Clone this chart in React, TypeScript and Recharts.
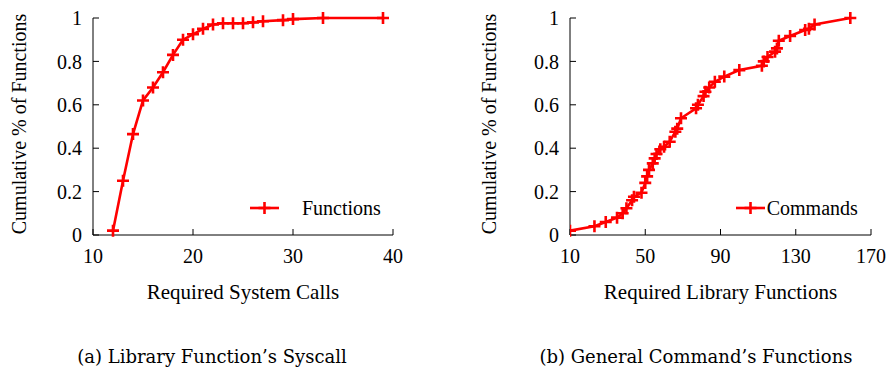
import React from 'react';
import { LineChart, Line, XAxis, YAxis, Legend } from 'recharts';

// (a) required system calls per library function
const syscallCounts = [12, 13, 14, 15, 16, 17, 18, 19, 20, 21, 22, 23, 24, 25, 26, 27, 29, 30, 33, 39];
const syscallCdf = [0.02, 0.25, 0.465, 0.62, 0.68, 0.75, 0.83, 0.9, 0.925, 0.95, 0.97, 0.976, 0.976, 0.976, 0.98, 0.985, 0.99, 0.995, 1.0, 1.0];

// (b) required library functions per command
const libFuncCounts = [10, 23, 29, 35, 38, 40, 43, 44, 48, 50, 51, 52, 54, 55, 56, 58, 60, 63, 66, 67, 69, 77, 78, 81, 82, 84, 87, 92, 100, 112, 113, 115, 119, 120, 121, 127, 135, 137, 140, 159];
const libFuncCdf = [0.02, 0.04, 0.06, 0.08, 0.1, 0.123, 0.16, 0.176, 0.195, 0.24, 0.27, 0.3, 0.33, 0.353, 0.373, 0.395, 0.407, 0.43, 0.476, 0.49, 0.538, 0.584, 0.6, 0.64, 0.66, 0.68, 0.706, 0.73, 0.76, 0.78, 0.8, 0.82, 0.845, 0.86, 0.895, 0.917, 0.945, 0.95, 0.97, 1.0];

const yTicks = [0, 0.2, 0.4, 0.6, 0.8, 1];
const xTicksA = [10, 20, 30, 40];
const xTicksB = [10, 50, 90, 130, 170];

const RED = '#ff0000';
const FONT = '"Liberation Serif", "DejaVu Serif", serif';

const toRows = (xs: number[], ys: number[]) => xs.map((x, i) => ({ x, y: ys[i] }));

const renderPlus = (p: any) => {
  const { cx, cy, index } = p;
  if (cx == null || cy == null) return <g key={`p-${index}`} />;
  return (
    <path
      key={`p-${index}`}
      d={`M${cx - 6},${cy}H${cx + 6}M${cx},${cy - 6}V${cy + 6}`}
      stroke={RED}
      strokeWidth={2.6}
      fill="none"
    />
  );
};

const YLabel = ({ viewBox }: any) => {
  const cx = viewBox.x + 19;
  const cy = 124;
  return (
    <text x={cx} y={cy} transform={`rotate(-90, ${cx}, ${cy})`} textAnchor="middle" dominantBaseline="central"
      fontFamily={FONT} fontSize={20} fill="#000">
      Cumulative % of Functions
    </text>
  );
};

const XLabel = (text: string) => ({ viewBox }: any) => (
  <text x={viewBox.x + viewBox.width / 2} y={292} textAnchor="middle" dominantBaseline="central"
    fontFamily={FONT} fontSize={21} fill="#000">
    {text}
  </text>
);

const legendContent = (name: string, textX: number) => () => (
  <svg width={170} height={24} style={{ display: 'block' }}>
    <line x1={10} y1={12} x2={39} y2={12} stroke={RED} strokeWidth={2.6} />
    <path d="M18.5,12H30.5M24.5,6V18" stroke={RED} strokeWidth={2.6} fill="none" />
    <text x={textX} y={12} dominantBaseline="central" fontFamily={FONT} fontSize={20} fill="#000">
      {name}
    </text>
  </svg>
);

const tickStyle = { fontFamily: FONT, fontSize: 20, fill: '#000' };

interface CdfProps {
  data: { x: number; y: number }[];
  xDomain: [number, number];
  xTicks: number[];
  xLabel: string;
  name: string;
  width: number;
  yAxisWidth: number;
  marginRight: number;
  legendLeft: number;
  legendTextX: number;
}

const CdfChart: React.FC<CdfProps> = ({ data, xDomain, xTicks, xLabel, name, width, yAxisWidth, marginRight, legendLeft, legendTextX }) => (
  <LineChart width={width} height={330} data={data} margin={{ top: 18, right: marginRight, bottom: 0, left: 0 }}>
    <XAxis dataKey="x" type="number" domain={xDomain} ticks={xTicks} allowDataOverflow
      height={95} tickSize={-6} tickMargin={20} stroke="#000" tick={tickStyle} interval={0}
      label={XLabel(xLabel)} />
    <XAxis xAxisId="top" orientation="top" type="number" domain={xDomain} ticks={xTicks} allowDataOverflow
      height={0} tickSize={-6} stroke="#000" tickFormatter={() => ''} interval={0} />
    <YAxis type="number" domain={[0, 1]} ticks={yTicks} width={yAxisWidth} tickSize={-6} tickMargin={17}
      stroke="#000" tick={tickStyle} interval={0} label={<YLabel />} />
    <YAxis yAxisId="right" orientation="right" type="number" domain={[0, 1]} ticks={yTicks} width={0}
      tickSize={-6} stroke="#000" tickFormatter={() => ''} interval={0} />
    <Legend layout="vertical" align="center" verticalAlign="middle"
      wrapperStyle={{ left: legendLeft, top: 196, width: 170, height: 24 }}
      content={legendContent(name, legendTextX)} />
    <Line type="linear" dataKey="y" name={name} stroke={RED} strokeWidth={2.6}
      dot={renderPlus} activeDot={false} isAnimationActive={false} />
  </LineChart>
);

const captionStyle: React.CSSProperties = {
  position: 'absolute',
  top: 345,
  fontFamily: '"DejaVu Serif", "Liberation Serif", serif',
  fontSize: 18,
  lineHeight: '24px',
  textAlign: 'center',
  whiteSpace: 'nowrap',
  color: '#000',
};

export default function App() {
  return (
    <div style={{ position: 'absolute', left: 0, top: 0, width: 888, height: 373, background: '#fff', overflow: 'hidden' }}>
      <div style={{ position: 'absolute', left: 0, top: 0 }}>
        <CdfChart data={toRows(syscallCounts, syscallCdf)} xDomain={[10, 40]} xTicks={xTicksA}
          xLabel="Required System Calls" name="Functions" width={420} yAxisWidth={93} marginRight={27}
          legendLeft={240} legendTextX={62} />
      </div>
      <div style={{ position: 'absolute', left: 470, top: 0 }}>
        <CdfChart data={toRows(libFuncCounts, libFuncCdf)} xDomain={[10, 170]} xTicks={xTicksB}
          xLabel="Required Library Functions" name="Commands" width={418} yAxisWidth={100} marginRight={17}
          legendLeft={256} legendTextX={40.7} />
      </div>
      <div style={{ ...captionStyle, left: 42, width: 340 }}>(a) Library Function’s Syscall</div>
      <div style={{ ...captionStyle, left: 526, width: 340 }}>(b) General Command’s Functions</div>
    </div>
  );
}
